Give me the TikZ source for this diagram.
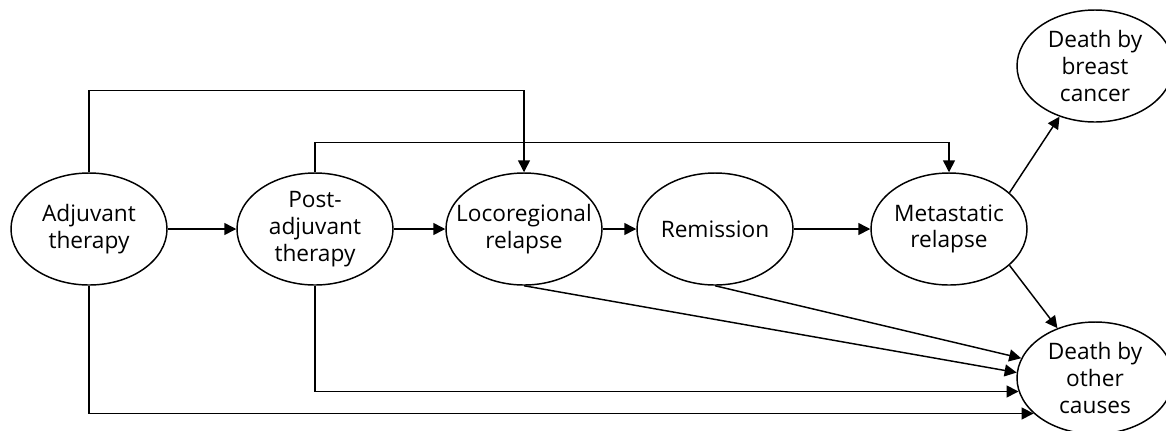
\documentclass[tikz,border=0pt]{standalone}
\usepackage{fontspec}
\setmainfont{Open Sans}
\usetikzlibrary{arrows.meta,shapes.geometric}

\tikzset{
    state/.style={ellipse,draw,line width=1.1pt,minimum width=117pt,minimum height=84pt,
        inner xsep=-14pt,inner ysep=-8pt,align=center,font=\fontsize{17}{20}\selectfont},
    trans/.style={-{Triangle[length=9pt,width=9pt]},line width=1.1pt}
}

\begin{document}
\begin{tikzpicture}[x=0.75pt,y=-0.75pt]
        \useasboundingbox (0,0) rectangle (1166,430);
        % states
        \node[state] (adj) at (89,229) {Adjuvant\\therapy};
        \node[state] (post) at (315,229) {Post-\\adjuvant\\therapy};
        \node[state] (loco) at (524,229) {Locoregional\\relapse};
        \node[state] (rem) at (715,229) {Remission};
        \node[state] (met) at (949,229) {Metastatic\\relapse};
        \node[state] (dbc) at (1095,66) {Death by\\breast\\cancer};
        \node[state] (doc) at (1095,378) {Death by\\other\\causes};
        % transitions
        \draw[trans] (adj) -- (post);
        \draw[trans] (post) -- (loco);
        \draw[trans] (loco) -- (rem);
        \draw[trans] (rem) -- (met);
        \draw[trans] (met.31) -- (dbc.235);
        \draw[trans] (met.329) -- (doc.127);
        \draw[trans] (adj.north) -- ++(0,-82) -| (loco.north);
        \draw[trans] (post.north) -- ++(0,-30) -| (met.north);
        \draw[trans] (loco.south) -- (doc.176);
        \draw[trans] (rem.south) -- (doc.165);
        \draw[trans] (post.south) |- (doc.190);
        \draw[trans] (adj.south) |- (doc.210);
    \end{tikzpicture}
\end{document}
